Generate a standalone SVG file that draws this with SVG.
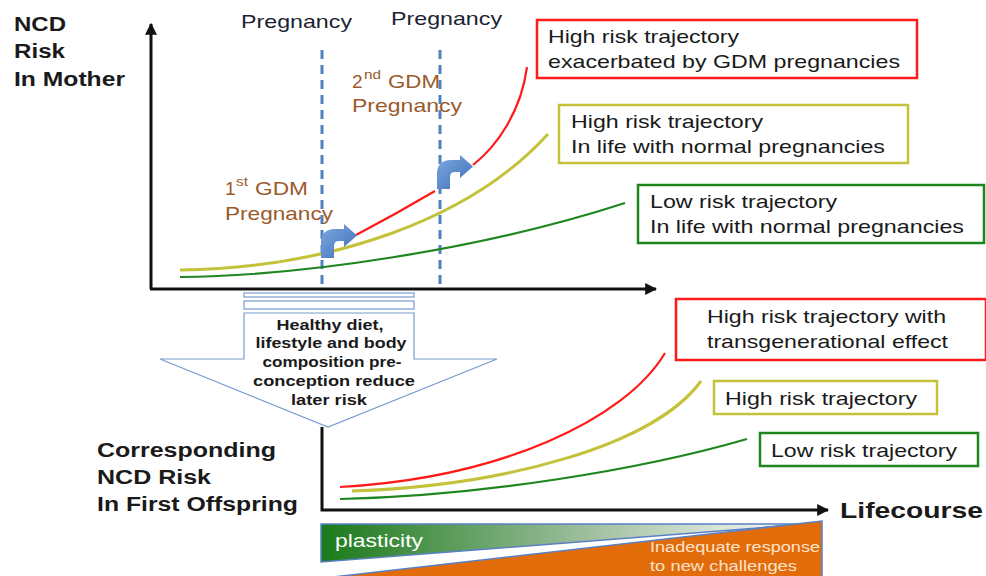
<svg xmlns="http://www.w3.org/2000/svg" width="986" height="576" viewBox="0 0 986 576">
  <style>
    text { font-family: "Liberation Sans", Arial, sans-serif; fill: #1a1a1a; }
    .head { font-size: 20px; font-weight: bold; }
    .preg { font-size: 19px; fill: #1c2233; }
    .gdm { font-size: 19px; fill: #9a5a2c; }
    .sup { font-size: 12px; fill: #9a5a2c; }
    .lbl { font-size: 18.5px; }
    .arrowtxt { font-size: 15.5px; font-weight: bold; text-anchor: middle; }
    .axis { stroke: #111; stroke-width: 3; fill: none; }
    .dash { stroke: #4f81bd; stroke-width: 3; stroke-dasharray: 9 6; fill: none; }
    .red { stroke: #ff1a1a; stroke-width: 2.2; fill: none; }
    .yel { stroke: #c4c23a; stroke-width: 3; fill: none; }
    .grn { stroke: #1f861f; stroke-width: 2.2; fill: none; }
    .box-red { fill: #fff; stroke: #ff1a1a; stroke-width: 2.5; }
    .box-yel { fill: #fff; stroke: #c4c23a; stroke-width: 2.5; }
    .box-grn { fill: #fff; stroke: #1f861f; stroke-width: 2.5; }
    .bent { fill: url(#bentFill); }
  </style>
  <defs>
    <marker id="axHead" viewBox="0 0 10 10" refX="9" refY="5" markerWidth="4" markerHeight="4" orient="auto">
      <path d="M0,0 L10,5 L0,10 Z" fill="#111"/>
    </marker>
    <linearGradient id="bentFill" x1="0" y1="0" x2="1" y2="1">
      <stop offset="0" stop-color="#7fa8e0"/>
      <stop offset="1" stop-color="#3c6fb8"/>
    </linearGradient>
    <linearGradient id="plastGrad" x1="321" y1="0" x2="808" y2="0" gradientUnits="userSpaceOnUse">
      <stop offset="0" stop-color="#1a7a1a"/>
      <stop offset="0.55" stop-color="#9fbf9f"/>
      <stop offset="1" stop-color="#ffffff"/>
    </linearGradient>
  </defs>

  <!-- mother: axes -->
  <g id="mother-axes">
    <line class="axis" x1="151" y1="289" x2="151" y2="24" marker-end="url(#axHead)"/>
    <line class="axis" x1="150" y1="289" x2="656" y2="289" marker-end="url(#axHead)"/>
  </g>

  <!-- pregnancy markers -->
  <g id="pregnancy-1">
    <line class="dash" x1="322" y1="50" x2="322" y2="286"/>
    <text class="preg" x="241" y="28" textLength="111" lengthAdjust="spacingAndGlyphs">Pregnancy</text>
  </g>
  <g id="pregnancy-2">
    <line class="dash" x1="440" y1="50" x2="440" y2="286"/>
    <text class="preg" x="391" y="25" textLength="111" lengthAdjust="spacingAndGlyphs">Pregnancy</text>
  </g>

  <!-- mother: axis label -->
  <g id="mother-label">
    <text class="head" x="14" y="31" textLength="52" lengthAdjust="spacingAndGlyphs">NCD</text>
    <text class="head" x="14" y="58" textLength="51" lengthAdjust="spacingAndGlyphs">Risk</text>
    <text class="head" x="14" y="86" textLength="111" lengthAdjust="spacingAndGlyphs">In Mother</text>
  </g>

  <!-- GDM labels -->
  <g id="gdm-1">
    <text class="gdm" x="225" y="195">1</text>
    <text class="sup" x="236" y="186" textLength="12" lengthAdjust="spacingAndGlyphs">st</text>
    <text class="gdm" x="255" y="195" textLength="53" lengthAdjust="spacingAndGlyphs">GDM</text>
    <text class="gdm" x="225" y="220" textLength="108" lengthAdjust="spacingAndGlyphs">Pregnancy</text>
  </g>
  <g id="gdm-2">
    <text class="gdm" x="352" y="88">2</text>
    <text class="sup" x="364" y="79" textLength="17" lengthAdjust="spacingAndGlyphs">nd</text>
    <text class="gdm" x="388" y="88" textLength="52" lengthAdjust="spacingAndGlyphs">GDM</text>
    <text class="gdm" x="352" y="112" textLength="110" lengthAdjust="spacingAndGlyphs">Pregnancy</text>
  </g>

  <!-- trajectories -->
  <g id="connectors">
    <path class="yel" d="M180,270 C330,268 470,220 548,134"/>
    <path class="grn" d="M180,277 C300,276 480,250 625,203"/>
    <path class="red" d="M356,235 Q396,214 435,191"/>
    <path class="red" d="M473,165 C497,146 521,112 527,67"/>
    <path class="red" d="M340,487 C500,478 625,420 665,353"/>
    <path class="yel" d="M352,491 C505,486 655,445 701,381"/>
    <path class="grn" d="M340,499 C480,496 640,470 747,439"/>
  </g>

  <!-- bent-up arrows at each GDM pregnancy -->
  <g id="bent-arrow-1">
    <path class="bent" d="M321,258 L321,243 Q321,229 335,229 L344,229 L344,224 L357,235.5 L344,247 L344,241 L339,241 Q334,241 334,246 L334,258 Z"/>
  </g>
  <g id="bent-arrow-2" transform="translate(116,-69)">
    <path class="bent" d="M321,258 L321,243 Q321,229 335,229 L344,229 L344,224 L357,235.5 L344,247 L344,241 L339,241 Q334,241 334,246 L334,258 Z"/>
  </g>

  <!-- mother trajectory boxes -->
  <g id="box-mother-high-gdm">
    <rect class="box-red" x="537" y="20" width="380" height="58"/>
    <text class="lbl" x="548" y="43" textLength="191" lengthAdjust="spacingAndGlyphs">High risk trajectory</text>
    <text class="lbl" x="548" y="68" textLength="352" lengthAdjust="spacingAndGlyphs">exacerbated by GDM pregnancies</text>
  </g>
  <g id="box-mother-high">
    <rect class="box-yel" x="559" y="105" width="349" height="58"/>
    <text class="lbl" x="571" y="128" textLength="192" lengthAdjust="spacingAndGlyphs">High risk trajectory</text>
    <text class="lbl" x="571" y="153" textLength="314" lengthAdjust="spacingAndGlyphs">In life with normal pregnancies</text>
  </g>
  <g id="box-mother-low">
    <rect class="box-grn" x="638" y="185" width="346" height="58"/>
    <text class="lbl" x="650" y="208" textLength="187" lengthAdjust="spacingAndGlyphs">Low risk trajectory</text>
    <text class="lbl" x="650" y="233" textLength="314" lengthAdjust="spacingAndGlyphs">In life with normal pregnancies</text>
  </g>

  <!-- downward block arrow -->
  <g id="preconception-arrow">
    <rect x="244" y="293" width="170" height="4" fill="#fff" stroke="#7a9ad0" stroke-width="1.2"/>
    <rect x="244" y="301" width="170" height="8" fill="#fff" stroke="#7a9ad0" stroke-width="1.2"/>
    <path d="M244,313 L414,313 L414,359 L497,359 L328,427 L160,359 L244,359 Z" fill="#fff" stroke="#7a9ad0" stroke-width="1.2"/>
    <text class="arrowtxt" x="330" y="330" textLength="107" lengthAdjust="spacingAndGlyphs">Healthy diet,</text>
    <text class="arrowtxt" x="331" y="348" textLength="151" lengthAdjust="spacingAndGlyphs">lifestyle and body</text>
    <text class="arrowtxt" x="332" y="367" textLength="139" lengthAdjust="spacingAndGlyphs">composition pre-</text>
    <text class="arrowtxt" x="334" y="386" textLength="162" lengthAdjust="spacingAndGlyphs">conception  reduce</text>
    <text class="arrowtxt" x="329" y="405" textLength="76" lengthAdjust="spacingAndGlyphs">later risk</text>
  </g>

  <!-- offspring: axes -->
  <g id="offspring-axes">
    <polyline class="axis" points="322,427 322,510 828,510" marker-end="url(#axHead)"/>
    <text x="840" y="518" font-size="22" font-weight="bold" textLength="143" lengthAdjust="spacingAndGlyphs">Lifecourse</text>
  </g>

  <g id="offspring-label">
    <text class="head" x="97" y="457" textLength="179" lengthAdjust="spacingAndGlyphs">Corresponding</text>
    <text class="head" x="97" y="484" textLength="114" lengthAdjust="spacingAndGlyphs">NCD Risk</text>
    <text class="head" x="97" y="511" textLength="201" lengthAdjust="spacingAndGlyphs">In First Offspring</text>
  </g>

  <!-- offspring trajectory boxes -->
  <g id="box-offspring-transgen">
    <rect class="box-red" x="676" y="299" width="310" height="61"/>
    <text class="lbl" x="707" y="323" textLength="239" lengthAdjust="spacingAndGlyphs">High risk trajectory with</text>
    <text class="lbl" x="707" y="348" textLength="241" lengthAdjust="spacingAndGlyphs">transgenerational effect</text>
  </g>
  <g id="box-offspring-high">
    <rect class="box-yel" x="714" y="381" width="223" height="33"/>
    <text class="lbl" x="725" y="405" textLength="192" lengthAdjust="spacingAndGlyphs">High risk trajectory</text>
  </g>
  <g id="box-offspring-low">
    <rect class="box-grn" x="760" y="433" width="218" height="33"/>
    <text class="lbl" x="771" y="457" textLength="186" lengthAdjust="spacingAndGlyphs">Low risk trajectory</text>
  </g>

  <!-- plasticity vs. inadequate response wedges -->
  <g id="plasticity">
    <path d="M321,524 L808,524 L321,562 Z" fill="url(#plastGrad)" stroke="#5a80c4" stroke-width="1.5"/>
    <text x="335" y="547" font-size="17.5" style="fill:#fff" textLength="88" lengthAdjust="spacingAndGlyphs">plasticity</text>
  </g>
  <g id="inadequate-response">
    <path d="M333,577 L822,521 L822,577 Z" fill="#e36c0a" stroke="#5a80c4" stroke-width="1.5"/>
    <text x="650" y="552" font-size="14" style="fill:#fbe3cc" textLength="170" lengthAdjust="spacingAndGlyphs">Inadequate response</text>
    <text x="650" y="571" font-size="14" style="fill:#fbe3cc" textLength="147" lengthAdjust="spacingAndGlyphs">to new challenges</text>
  </g>
</svg>
